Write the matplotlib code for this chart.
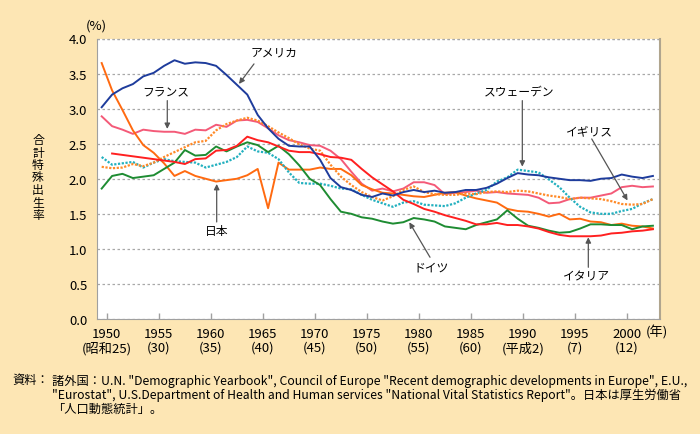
import matplotlib
matplotlib.use("Agg")
import matplotlib.pyplot as plt
import numpy as np

plt.rcParams['font.family'] = ['Noto Sans CJK JP', 'DejaVu Sans']

years = list(range(1950, 2004))

usa = [3.02, 3.20, 3.29, 3.35, 3.46, 3.51, 3.61, 3.69, 3.64, 3.66,
       3.65, 3.61, 3.48, 3.34, 3.20, 2.91, 2.72, 2.57, 2.47, 2.46,
       2.46, 2.27, 2.01, 1.88, 1.84, 1.77, 1.74, 1.79, 1.76, 1.81,
       1.84, 1.81, 1.83, 1.80, 1.81, 1.84, 1.84, 1.87, 1.93, 2.01,
       2.08, 2.06, 2.05, 2.02, 2.00, 1.98, 1.98, 1.97, 2.00, 2.01,
       2.06, 2.03, 2.01, 2.04]

france = [2.89, 2.75, 2.70, 2.64, 2.70, 2.68, 2.67, 2.67, 2.64, 2.70,
          2.69, 2.77, 2.74, 2.83, 2.84, 2.81, 2.72, 2.62, 2.55, 2.52,
          2.48, 2.47, 2.40, 2.28, 2.10, 1.93, 1.83, 1.86, 1.82, 1.86,
          1.95, 1.95, 1.91, 1.78, 1.80, 1.81, 1.83, 1.80, 1.81, 1.79,
          1.78, 1.77, 1.73, 1.65, 1.66, 1.71, 1.73, 1.73, 1.76, 1.79,
          1.88, 1.90, 1.88, 1.89]

japan = [3.65, 3.26, 2.98, 2.69, 2.48, 2.37, 2.22, 2.04, 2.11, 2.04,
         2.00, 1.96, 1.98, 2.00, 2.05, 2.14, 1.58, 2.23, 2.13, 2.13,
         2.13, 2.16, 2.14, 2.14, 2.05, 1.91, 1.85, 1.80, 1.79, 1.77,
         1.75, 1.74, 1.77, 1.80, 1.81, 1.76, 1.72, 1.69, 1.66, 1.57,
         1.54, 1.53, 1.50, 1.46, 1.50, 1.42, 1.43, 1.39, 1.38, 1.34,
         1.36, 1.33, 1.32, 1.29]

sweden = [2.31, 2.20, 2.22, 2.24, 2.16, 2.23, 2.28, 2.25, 2.24, 2.23,
          2.16, 2.20, 2.24, 2.31, 2.46, 2.39, 2.37, 2.28, 2.09, 1.94,
          1.93, 1.93, 1.90, 1.86, 1.85, 1.77, 1.70, 1.65, 1.60, 1.66,
          1.68, 1.63, 1.62, 1.61, 1.65, 1.73, 1.79, 1.84, 1.96, 2.02,
          2.13, 2.11, 2.09, 1.99, 1.88, 1.73, 1.60, 1.52, 1.50, 1.50,
          1.54, 1.57, 1.65, 1.71]

uk = [2.17, 2.15, 2.16, 2.21, 2.18, 2.23, 2.31, 2.38, 2.45, 2.52,
      2.54, 2.69, 2.78, 2.83, 2.87, 2.83, 2.75, 2.66, 2.58, 2.49,
      2.43, 2.40, 2.20, 2.03, 1.91, 1.81, 1.74, 1.69, 1.75, 1.84,
      1.89, 1.81, 1.78, 1.77, 1.77, 1.79, 1.78, 1.81, 1.82, 1.81,
      1.83, 1.82, 1.79, 1.76, 1.74, 1.71, 1.73, 1.72, 1.71, 1.68,
      1.64, 1.63, 1.64, 1.71]

germany = [1.86, 2.04, 2.07, 2.01, 2.03, 2.05, 2.14, 2.23, 2.41, 2.33,
           2.34, 2.46, 2.39, 2.46, 2.52, 2.48, 2.38, 2.47, 2.35, 2.19,
           2.00, 1.91, 1.71, 1.53, 1.50, 1.45, 1.43, 1.39, 1.36, 1.38,
           1.44, 1.42, 1.39, 1.32, 1.30, 1.28, 1.34, 1.38, 1.42, 1.55,
           1.43, 1.33, 1.30, 1.26, 1.23, 1.24, 1.29, 1.35, 1.35, 1.34,
           1.34, 1.28, 1.32, 1.33]

italy_years = list(range(1951, 2004))
italy = [2.36, 2.34, 2.32, 2.30, 2.28, 2.26, 2.24, 2.21, 2.28,
         2.29, 2.40, 2.41, 2.47, 2.60, 2.55, 2.52, 2.46, 2.40, 2.38,
         2.38, 2.35, 2.31, 2.30, 2.27, 2.14, 2.02, 1.92, 1.82, 1.70,
         1.64, 1.57, 1.53, 1.48, 1.44, 1.40, 1.35, 1.35, 1.37, 1.34,
         1.34, 1.32, 1.29, 1.24, 1.20, 1.18, 1.18, 1.18, 1.19, 1.22,
         1.23, 1.25, 1.26, 1.28]

tick_years = [1950, 1955, 1960, 1965, 1970, 1975, 1980, 1985, 1990, 1995, 2000]
tick_era = ['(昭和25)', '(30)', '(35)', '(40)', '(45)', '(50)', '(55)', '(60)',
            '(平成2)', '(7)', '(12)']
yticks = [0.0, 0.5, 1.0, 1.5, 2.0, 2.5, 3.0, 3.5, 4.0]

W, H = 700, 435
BG = '#fde6b4'
fig = plt.figure(figsize=(W / 100, H / 100), dpi=100, facecolor=BG)
ax = fig.add_axes([97 / W, 1 - 320 / H, (660 - 97) / W, (320 - 39.5) / H])
ax.set_facecolor('white')

DOT = (0, (1.0, 0.7))
ax.plot(years, usa, color='#1e3c9c', lw=1.4, zorder=5)
ax.plot(years, france, color='#f45a78', lw=1.4, zorder=4)
ax.plot(years, japan, color='#ff6a10', lw=1.4, zorder=4)
ax.plot(years, sweden, color='#22b0bf', lw=1.6, ls=DOT, zorder=4)
ax.plot(years, uk, color='#ff8a28', lw=1.6, ls=DOT, zorder=4)
ax.plot(years, germany, color='#1e8c32', lw=1.4, zorder=4)
ax.plot(italy_years, italy, color='#ff2020', lw=1.4, zorder=4)

ax.set_xlim(1949.55, 2003.68)
ax.set_ylim(0, 4.0)
ax.set_yticks(yticks)
ax.set_yticklabels([f'{v:.1f}' for v in yticks])
ax.set_xticks([y + 0.5 for y in tick_years])
ax.set_xticklabels([f'{y}\n{e}' for y, e in zip(tick_years, tick_era)], linespacing=1.05)
ax.tick_params(axis='x', direction='in', length=4, width=1, color='#a0a0a0',
               labelsize=9.5, pad=6)
ax.tick_params(axis='y', length=0, labelsize=9.5, pad=7)
ax.grid(axis='y', color='#a8a8a8', ls=(0, (2, 2)), lw=0.9)
ax.set_axisbelow(True)
ax.spines['top'].set_visible(False)
ax.spines['left'].set_color('#a0a0a0')
ax.spines['bottom'].set_color('#a0a0a0')
ax.spines['right'].set_color('#b0a58e')
ax.spines['right'].set_linewidth(1.5)
ax.axhline(4.0, color='#a8a8a8', ls=(0, (2, 2)), lw=0.9, clip_on=False)


def px(xp, yp):
    return (1950 + (xp - 101.7) / 10.4, (320 - yp) / 70.1)


ann = [
    ('アメリカ', (274, 52.7), (254, 65), (239, 85)),
    ('フランス', (165.5, 92.7), (167.3, 101.7), (167.3, 130)),
    ('日本', (216.5, 231.7), (216.7, 223), (216.7, 185)),
    ('スウェーデン', (519.5, 93), (522.3, 101.7), (522.3, 167.7)),
    ('イギリス', (589, 131.7), (591.7, 140), (627.5, 201.5)),
    ('ドイツ', (431, 268.3), (430, 258.3), (409.3, 223.3)),
    ('イタリア', (586, 276.7), (588.3, 268.3), (588.3, 238.3)),
]
for label, tp, a0, a1 in ann:
    ax.text(*px(*tp), label, ha='center', va='center', fontsize=8.5, zorder=10)
    ax.annotate('', xy=px(*a1), xytext=px(*a0),
                arrowprops=dict(arrowstyle='-|>', color='#555555', lw=0.9,
                                mutation_scale=8, shrinkA=0, shrinkB=0),
                zorder=10)

fig.text(96 / W, 1 - 26 / H, '(%)', ha='center', va='center', fontsize=9.5)
fig.text(657 / W, 1 - 333 / H, '(年)', ha='center', va='center', fontsize=9.5)
fig.text(38 / W, 1 - 178 / H, '\n'.join('合計特殊出生率'), ha='center', va='center',
         fontsize=8.5, linespacing=0.95)

fig.text(12 / W, 1 - 381 / H, '資料：', ha='left', va='center', fontsize=8.8)
src = ['諸外国：U.N. "Demographic Yearbook", Council of Europe "Recent demographic developments in Europe", E.U.,',
       '"Eurostat", U.S.Department of Health and Human services "National Vital Statistics Report"。日本は厚生労働省',
       '「人口動態統計」。']
for i, s in enumerate(src):
    fig.text(52 / W, 1 - (381 + 14 * i) / H, s, ha='left', va='center', fontsize=8.8)

fig.savefig('out.png', dpi=100, facecolor=BG)
